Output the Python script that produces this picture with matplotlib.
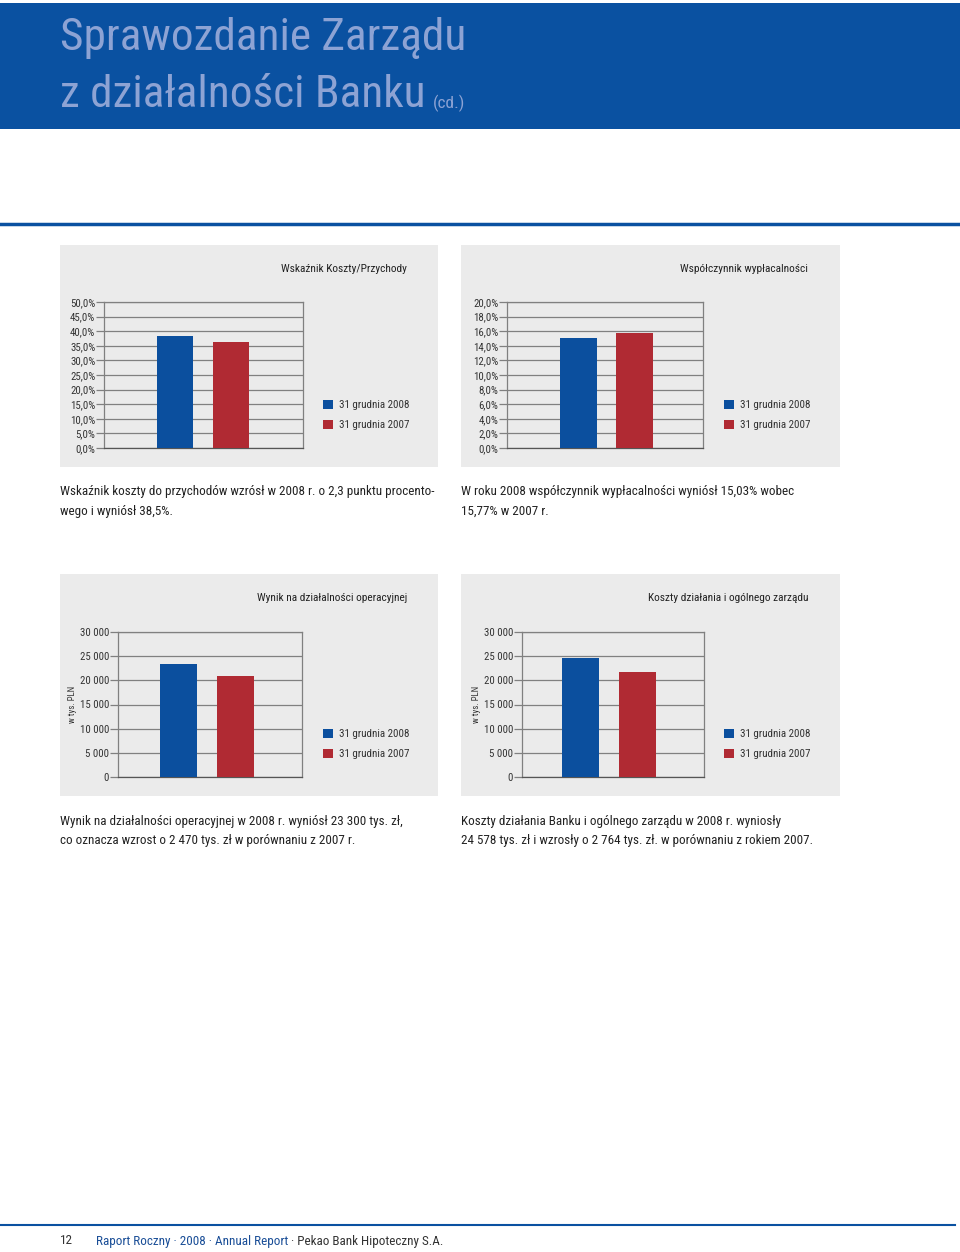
import matplotlib
matplotlib.use("Agg")
import matplotlib.pyplot as plt
from matplotlib import font_manager
from matplotlib.patches import Rectangle, Patch
from matplotlib.ticker import FuncFormatter

W, H = 960, 1252

# pick the narrowest sans family that is installed
installed = {f.name for f in font_manager.fontManager.ttflist}
narrow = [n for n in ["Liberation Sans Narrow", "Roboto Condensed", "Open Sans Condensed",
                      "Roboto", "Liberation Sans"] if n in installed]
plt.rcParams['font.family'] = narrow + ['DejaVu Sans']

# data
series_labels = ["31 grudnia 2008", "31 grudnia 2007"]
cost_income = [38.5, 36.2]
solvency = [15.03, 15.77]
operating_result = [23300, 20830]
admin_costs = [24578, 21814]

titles = ["Wskaźnik Koszty/Przychody", "Współczynnik wypłacalności",
          "Wynik na działalności operacyjnej", "Koszty działania i ogólnego zarządu"]
captions = [
    ["Wskaźnik koszty do przychodów wzrósł w 2008 r. o 2,3 punktu procento-", "wego i wyniósł 38,5%."],
    ["W roku 2008 współczynnik wypłacalności wyniósł 15,03% wobec", "15,77% w 2007 r."],
    ["Wynik na działalności operacyjnej w 2008 r. wyniósł 23 300 tys. zł,",
     "co oznacza wzrost o 2 470 tys. zł w porównaniu z 2007 r."],
    ["Koszty działania Banku i ogólnego zarządu w 2008 r. wyniosły",
     "24 578 tys. zł i wzrosły o 2 764 tys. zł. w porównaniu z rokiem 2007."],
]

BLUE = "#0B4F9E"
RED = "#B02A33"
PANEL = "#EBEBEB"
HEAD = "#0A51A1"
GRID = "#808080"
TXT = "#333333"

fig = plt.figure(figsize=(W / 100, H / 100), dpi=100)
fig.patch.set_facecolor("white")
renderer = fig.canvas.get_renderer()


def fitsize(s, width_px):
    # font size at which string s is width_px wide
    t = fig.text(0, 0, s, fontsize=10)
    w = t.get_window_extent(renderer).width
    t.remove()
    return 10 * width_px / w


def box(x0, y0, x1, y1):
    return [x0 / W, 1 - y1 / H, (x1 - x0) / W, (y1 - y0) / H]


def fy(y):
    return 1 - y / H


# header banner
fig.patches.append(Rectangle((0, fy(129)), 1, 126 / H, transform=fig.transFigure,
                             facecolor=HEAD, edgecolor="none", zorder=-2))
hs = fitsize("Sprawozdanie Zarządu", 405)
fig.text(60 / W, fy(38), "Sprawozdanie Zarządu", color="#8DA3D4", fontsize=hs, va="center")
fig.text(60 / W, fy(95), "z działalności Banku", color="#8DA3D4", fontsize=hs, va="center")
fig.text(433 / W, fy(103), "(cd.)", color="#8DA3D4", fontsize=fitsize("(cd.)", 32), va="center")

fig.add_artist(plt.Line2D([0, 1], [fy(224)] * 2, color=HEAD, lw=2.5))

# panels
panels = [(60, 245, 438, 467), (461, 245, 840, 467), (60, 574, 438, 796), (461, 574, 840, 796)]
for p in panels:
    fig.patches.append(Rectangle((p[0] / W, fy(p[3])), (p[2] - p[0]) / W, (p[3] - p[1]) / H,
                                 transform=fig.transFigure, facecolor=PANEL, edgecolor="none",
                                 zorder=-1))

axes_boxes = [(104, 302, 303, 448), (507, 302, 703, 448), (118, 632, 302, 777), (522, 632, 704, 777)]
values = [cost_income, solvency, operating_result, admin_costs]
ymax = [50, 20, 30000, 30000]
ystep = [5, 2, 5000, 5000]
pct = [True, True, False, False]
xlims = [(-1.27, 2.28), (-1.28, 2.22), (-1.06, 2.17), (-1.03, 2.16)]

tick_fs = fitsize("50,0%", 25)
title_fs = fitsize("Wskaźnik Koszty/Przychody", 126)
leg_fs = fitsize("31 grudnia 2008", 70)
ylab_fs = fitsize("w tys. PLN", 37)
cap_fs = fitsize(captions[0][0], 372)

for i in range(4):
    ax = fig.add_axes(box(*axes_boxes[i]))
    ax.set_facecolor(PANEL)
    ax.bar([0, 1], values[i], width=0.65, color=[BLUE, RED], zorder=3)
    ax.set_xlim(*xlims[i])
    ax.set_ylim(0, ymax[i])
    ticks = [k * ystep[i] for k in range(int(ymax[i] / ystep[i]) + 1)]
    ax.set_yticks(ticks)
    if pct[i]:
        ax.yaxis.set_major_formatter(FuncFormatter(lambda v, _: f"{v:.1f}%".replace(".", ",")))
    else:
        ax.yaxis.set_major_formatter(FuncFormatter(lambda v, _: f"{int(v):,}".replace(",", " ")))
        ax.set_ylabel("w tys. PLN", fontsize=ylab_fs, color=TXT, labelpad=2)
    ax.set_xticks([])
    ax.grid(axis="y", color=GRID, lw=0.9, zorder=1)
    for s in ax.spines.values():
        s.set_color(GRID)
        s.set_linewidth(0.9)
    ax.spines["bottom"].set_color("#555555")
    ax.tick_params(axis="y", labelsize=tick_fs, colors=GRID, labelcolor=TXT, length=5.5,
                   width=0.9, pad=0.8)

    p = panels[i]
    fig.text((p[0] + 347) / W, fy(p[1] + 24), titles[i], ha="right", va="center",
             fontsize=title_fs, color="#222222")
    handles = [Patch(facecolor=BLUE), Patch(facecolor=RED)]
    ax.legend(handles, series_labels, loc="center left", frameon=False,
              bbox_to_anchor=((p[0] + 263) / W, fy(p[1] + 170)), bbox_transform=fig.transFigure,
              handlelength=0.95, handleheight=0.95, handletextpad=0.5, labelspacing=0.85,
              fontsize=leg_fs, labelcolor="#333333", borderaxespad=0, borderpad=0)

    for j, line in enumerate(captions[i]):
        fig.text(p[0] / W, fy(p[3] + 25 + 19.5 * j), line, ha="left", va="center",
                 fontsize=cap_fs, color="#222222")

# footer
fig.add_artist(plt.Line2D([0, 955 / W], [fy(1225)] * 2, color=HEAD, lw=1.5))
fig.text(60 / W, fy(1241), "12", fontsize=cap_fs, color="#333333", va="center")
t1 = fig.text(96 / W, fy(1241), "Raport Roczny · 2008 · Annual Report", fontsize=cap_fs,
              color="#1A4E97", va="center")
bb = t1.get_window_extent(renderer)
fig.text(bb.x1 / W, fy(1241), " · Pekao Bank Hipoteczny S.A.", fontsize=cap_fs,
         color="#333333", va="center")

fig.savefig("out.png", dpi=100, facecolor="white")
